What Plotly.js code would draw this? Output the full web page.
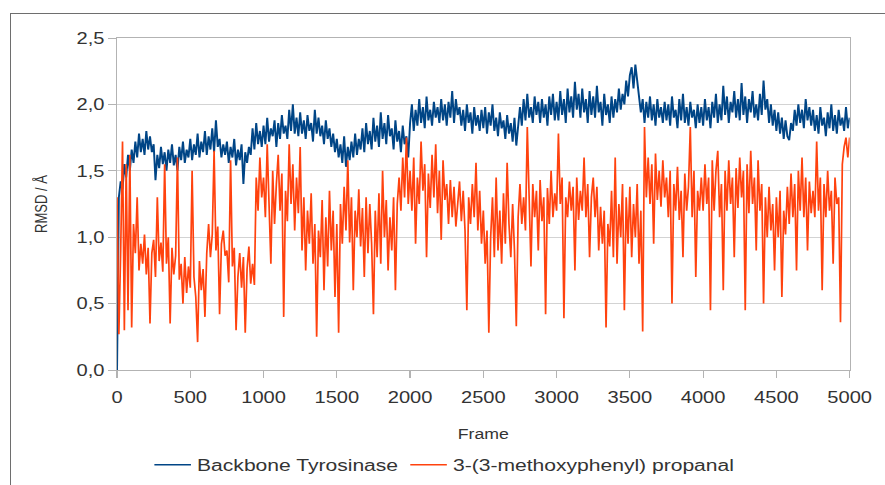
<!DOCTYPE html>
<html><head><meta charset="utf-8">
<script src="https://cdn.plot.ly/plotly-3.0.1.min.js"></script>
<style>
html,body{margin:0;padding:0;background:#fff;overflow:hidden}
#wrap{position:relative;width:885px;height:485px;overflow:hidden}
#chart{position:absolute;left:0;top:0;width:726px;height:485px;transform:scale(1.219,1);transform-origin:0 0}
#frame{position:absolute;left:10px;top:13px;width:900px;height:500px;border:1.5px solid #6e6e6e;pointer-events:none}
</style></head>
<body><div id="wrap"><div id="chart"></div><div id="frame"></div></div>
<script>
const frameStep = 12.5;
const seriesNames = ["Backbone Tyrosinase", "3-(3-methoxyphenyl) propanal"];
const yTickVals = [0, 0.5, 1, 1.5, 2, 2.5];
const yTickText = ["0,0", "0,5", "1,0", "1,5", "2,0", "2,5"];
const xTickVals = [0, 500, 1000, 1500, 2000, 2500, 3000, 3500, 4000, 4500, 5000];

// RMSD of the protein backbone, one value every 12.5 frames (0 ... 5000)
const backbone = [
 0.00, 1.30, 1.42, 1.36, 1.55, 1.45, 1.62, 1.50, 1.66, 1.56, 1.72, 1.60, 1.78, 1.64, 1.74, 1.62, 1.80, 1.66, 1.76, 1.64,
 1.70, 1.43, 1.62, 1.52, 1.68, 1.55, 1.64, 1.50, 1.66, 1.56, 1.70, 1.54, 1.62, 1.50, 1.68, 1.58, 1.72, 1.56, 1.66, 1.60,
 1.74, 1.58, 1.70, 1.62, 1.78, 1.60, 1.72, 1.64, 1.80, 1.62, 1.76, 1.66, 1.82, 1.64, 1.88, 1.68, 1.74, 1.60, 1.70, 1.62,
 1.72, 1.56, 1.68, 1.60, 1.74, 1.54, 1.66, 1.58, 1.70, 1.40, 1.64, 1.56, 1.68, 1.62, 1.82, 1.66, 1.86, 1.70, 1.80, 1.68,
 1.84, 1.70, 1.90, 1.72, 1.82, 1.76, 1.88, 1.68, 1.86, 1.74, 1.92, 1.78, 1.84, 1.74, 1.96, 1.80, 2.00, 1.78, 1.90, 1.76,
 1.94, 1.78, 1.88, 1.74, 1.92, 1.80, 1.86, 1.72, 1.96, 1.78, 1.90, 1.76, 1.84, 1.70, 1.88, 1.74, 1.82, 1.68, 1.78, 1.64,
 1.74, 1.60, 1.70, 1.56, 1.76, 1.53, 1.68, 1.58, 1.72, 1.60, 1.78, 1.62, 1.74, 1.66, 1.82, 1.64, 1.86, 1.70, 1.80, 1.66,
 1.90, 1.72, 1.84, 1.68, 1.94, 1.74, 1.86, 1.70, 1.92, 1.76, 1.82, 1.66, 1.88, 1.72, 1.80, 1.64, 1.84, 1.70, 1.76, 1.60,
 1.86, 2.00, 1.80, 1.96, 1.84, 2.04, 1.86, 1.98, 1.82, 2.06, 1.88, 1.96, 1.84, 2.02, 1.90, 1.98, 1.86, 2.04, 1.88, 2.00,
 1.84, 2.02, 1.90, 2.10, 1.86, 2.04, 1.92, 1.98, 1.84, 1.96, 1.80, 2.00, 1.86, 1.94, 1.78, 1.98, 1.84, 1.92, 1.80, 1.96,
 1.82, 1.98, 1.78, 1.94, 1.84, 2.00, 1.80, 1.90, 1.76, 1.94, 1.82, 1.88, 1.74, 1.92, 1.78, 1.86, 1.72, 1.90, 1.69, 1.84,
 1.98, 1.84, 2.04, 1.88, 2.08, 1.90, 1.98, 1.86, 2.06, 1.92, 2.02, 1.86, 2.04, 1.90, 2.00, 1.84, 2.06, 1.92, 2.08, 1.88,
 2.02, 1.88, 2.10, 1.92, 2.04, 1.86, 2.12, 1.94, 2.06, 1.90, 2.17, 1.96, 2.08, 1.90, 2.12, 1.94, 2.04, 1.86, 2.10, 1.92,
 2.06, 1.90, 2.14, 1.94, 2.02, 1.84, 2.08, 1.92, 2.00, 1.86, 2.06, 1.90, 2.04, 1.94, 2.12, 1.96, 2.08, 2.00, 2.18, 2.06,
 2.22, 2.28, 2.12, 2.30, 2.16, 2.06, 1.94, 2.04, 1.86, 2.02, 1.90, 2.06, 1.88, 2.00, 1.84, 2.04, 1.90, 1.98, 1.86, 2.02,
 1.88, 2.00, 1.84, 2.06, 1.90, 1.96, 1.82, 2.04, 1.88, 2.08, 1.86, 1.98, 1.84, 2.02, 1.90, 1.96, 1.82, 2.00, 1.86, 1.98,
 1.84, 2.04, 1.88, 1.98, 1.82, 2.02, 1.90, 2.08, 1.86, 2.00, 1.88, 2.14, 1.92, 2.06, 1.86, 2.02, 1.94, 2.10, 1.90, 2.04,
 1.88, 2.16, 1.92, 2.06, 1.86, 2.04, 1.94, 2.10, 1.90, 2.00, 1.88, 2.08, 1.92, 2.18, 1.96, 2.04, 1.86, 2.00, 1.84, 1.96,
 1.80, 1.94, 1.78, 1.90, 1.74, 1.88, 1.76, 1.73, 1.86, 1.80, 1.96, 1.84, 2.00, 1.86, 1.96, 1.82, 2.04, 1.88, 1.98, 1.84,
 1.96, 1.80, 1.92, 1.78, 1.98, 1.84, 1.90, 1.76, 1.94, 1.82, 2.00, 1.80, 1.92, 1.78, 1.96, 1.84, 1.90, 1.80, 1.98, 1.82,
 1.90
];

// RMSD of the ligand, one value every 12.5 frames (0 ... 5000)
const ligand = [
 1.30, 0.27, 0.90, 1.72, 0.30, 1.55, 0.45, 1.62, 0.32, 1.10, 0.88, 1.30, 0.75, 0.95, 0.80, 1.02, 0.72, 0.92, 0.35, 0.88,
 0.98, 0.70, 1.30, 0.82, 0.96, 0.74, 1.55, 0.80, 1.00, 0.35, 0.92, 0.72, 0.86, 1.60, 0.68, 0.80, 0.50, 0.85, 0.58, 0.78,
 0.62, 1.50, 0.70, 0.55, 0.21, 0.82, 0.60, 0.76, 0.40, 0.88, 1.10, 0.85, 1.02, 1.65, 0.90, 1.08, 0.42, 0.95, 1.05, 0.86,
 0.90, 0.66, 1.58, 0.78, 0.92, 0.30, 0.70, 0.88, 0.62, 0.85, 0.28, 0.76, 0.93, 0.65, 0.80, 0.64, 1.45, 1.20, 1.60, 1.30,
 1.45, 1.15, 1.70, 1.25, 0.80, 1.50, 1.10, 1.40, 1.62, 1.20, 1.48, 0.40, 1.35, 1.12, 1.70, 1.25, 1.55, 1.05, 1.45, 1.18,
 1.68, 0.90, 1.30, 0.75, 1.20, 0.95, 1.33, 0.80, 1.10, 0.25, 1.05, 0.85, 1.28, 0.60, 1.15, 0.78, 1.35, 0.90, 1.20, 0.55,
 1.10, 0.28, 1.25, 0.95, 1.38, 1.05, 1.58, 0.96, 1.30, 0.60, 1.20, 1.00, 1.36, 0.93, 1.22, 0.70, 1.30, 0.88, 1.25, 0.95,
 0.42, 1.20, 0.85, 1.33, 0.80, 1.50, 1.00, 1.28, 0.75, 1.15, 0.90, 1.30, 0.60, 1.25, 1.45, 1.20, 1.60, 1.30, 1.75, 1.25,
 1.50, 1.20, 1.60, 0.95, 1.45, 1.25, 1.72, 1.35, 1.55, 0.85, 1.48, 1.22, 1.62, 1.30, 1.70, 1.18, 1.50, 0.98, 1.58, 1.28,
 1.40, 1.10, 1.43, 1.15, 1.38, 1.08, 1.30, 1.42, 1.12, 1.35, 1.05, 0.45, 1.30, 1.10, 1.40, 1.15, 1.56, 1.05, 1.35, 0.95,
 1.20, 0.80, 1.05, 0.28, 1.00, 1.30, 0.85, 1.45, 0.90, 1.20, 0.80, 1.33, 0.95, 1.56, 1.10, 0.85, 1.25, 0.90, 0.33, 1.15,
 1.40, 1.10, 1.30, 1.05, 1.83, 1.25, 0.78, 1.40, 1.15, 1.35, 0.90, 1.43, 1.12, 1.30, 0.42, 1.37, 1.10, 1.50, 1.15, 1.33,
 1.20, 1.78, 1.25, 1.45, 0.39, 1.30, 1.15, 1.42, 1.20, 1.38, 0.75, 1.45, 1.13, 1.35, 1.20, 1.60, 1.15, 1.40, 0.85, 1.30,
 1.45, 1.15, 1.38, 0.90, 1.23, 0.95, 1.20, 0.32, 1.10, 0.93, 1.35, 0.85, 1.60, 0.80, 1.25, 1.00, 1.40, 0.45, 1.30, 0.95,
 1.38, 0.85, 1.25, 1.00, 1.40, 0.80, 1.20, 0.29, 1.83, 1.30, 1.60, 1.25, 1.55, 0.95, 1.63, 1.28, 1.50, 1.23, 1.58, 1.30,
 1.45, 1.15, 1.50, 0.50, 1.40, 1.20, 1.53, 1.13, 1.35, 0.85, 1.48, 1.20, 1.38, 1.83, 1.15, 1.50, 0.70, 1.35, 1.20, 1.45,
 1.20, 1.55, 1.25, 1.45, 0.45, 1.58, 1.20, 1.50, 1.65, 1.15, 1.40, 0.60, 1.50, 1.20, 1.58, 1.25, 1.45, 0.85, 1.52, 1.22,
 1.60, 1.30, 1.50, 0.45, 1.55, 1.18, 1.65, 1.25, 1.45, 0.90, 1.58, 1.20, 1.40, 0.50, 1.30, 1.00, 1.38, 1.05, 1.25, 0.75,
 1.30, 1.00, 1.35, 0.55, 1.20, 1.02, 1.38, 1.10, 1.48, 1.15, 1.40, 0.75, 1.50, 1.20, 1.60, 1.15, 1.45, 0.90, 1.42, 1.18,
 1.35, 1.15, 1.72, 1.20, 1.45, 0.60, 1.40, 1.15, 1.50, 1.20, 1.35, 0.80, 1.45, 1.25, 1.30, 0.36, 1.55, 1.68, 1.75, 1.60,
 1.75
];

const framesFor = arr => arr.map((_, i) => i * frameStep);
const font = "'Liberation Sans', Arial, sans-serif";
const txt = '#333333';

const traces = [
 {x: framesFor(backbone), y: backbone, name: seriesNames[0], type: 'scatter', mode: 'lines',
  line: {color: '#004586', width: 1.6}},
 {x: framesFor(ligand), y: ligand, name: seriesNames[1], type: 'scatter', mode: 'lines',
  line: {color: '#ff420e', width: 1.4}}
];

const layout = {
 width: 726, height: 485,
 margin: {l: 96, r: 29, t: 38, b: 115, autoexpand: false},
 paper_bgcolor: 'rgba(0,0,0,0)', plot_bgcolor: '#fff',
 font: {family: font, color: txt, size: 16},
 showlegend: true,
 legend: {orientation: 'h', x: 0.447, xanchor: 'center', y: -0.286, yanchor: 'middle',
  font: {family: font, size: 17.3, color: txt}, traceorder: 'normal', itemwidth: 30},
 xaxis: {range: [0, 5000], tickvals: xTickVals, ticktext: xTickVals.map(String), automargin: false,
  showgrid: false, zeroline: false, showline: true, linecolor: '#b3b3b3', linewidth: 1,
  mirror: true, ticks: 'outside', ticklen: 7, tickcolor: '#b3b3b3', ticklabelstandoff: 5,
  tickfont: {family: font, size: 16.5, color: txt},
  title: {text: 'Frame', font: {family: font, size: 14.5, color: txt}, standoff: 24}},
 yaxis: {range: [0, 2.5], tickvals: yTickVals, ticktext: yTickText, automargin: false,
  showgrid: true, gridcolor: '#d3d3d3', gridwidth: 1, zeroline: false,
  showline: true, linecolor: '#b3b3b3', linewidth: 1, mirror: true,
  ticks: 'outside', ticklen: 6, tickcolor: '#b3b3b3',
  tickfont: {family: font, size: 16.5, color: txt},
  title: {text: 'RMSD / Å', font: {family: font, size: 13, color: txt}, standoff: 20}}
};

Plotly.newPlot('chart', traces, layout, {displayModeBar: false, staticPlot: true});
</script></body></html>
